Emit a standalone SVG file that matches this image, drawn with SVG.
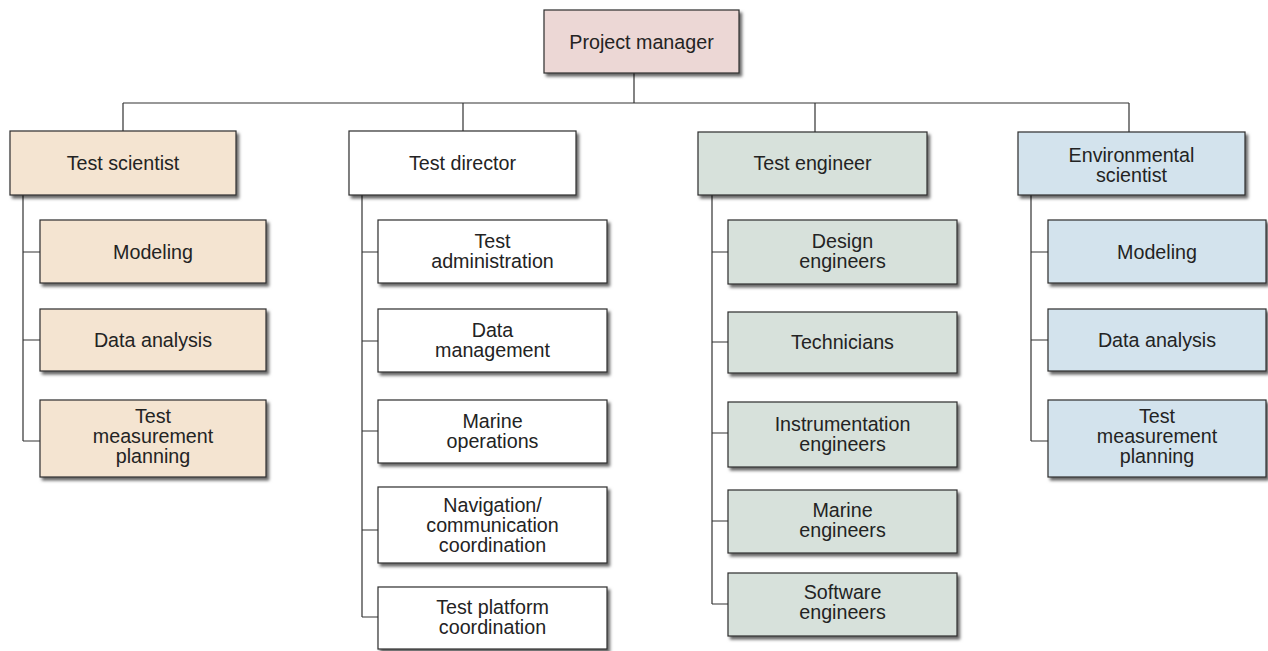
<svg xmlns="http://www.w3.org/2000/svg" width="1268" height="651" viewBox="0 0 1268 651">
  <defs>
    <filter id="shadow" x="-5%" y="-10%" width="115%" height="130%">
      <feDropShadow dx="2.5" dy="3" stdDeviation="1.6" flood-color="#000" flood-opacity="0.6"/>
    </filter>
  </defs>
  <style>
    .box { stroke: #2e2e2e; stroke-width: 1.2; filter: url(#shadow); }
    .pm { fill: #ecd7d5; }
    .sci { fill: #f4e4d1; }
    .dir { fill: #ffffff; }
    .eng { fill: #d7e1db; }
    .env { fill: #d3e3ed; }
    .lbl { font-family: "Liberation Sans", Arial, sans-serif; font-size: 19.7px; fill: #232323; text-anchor: middle; }
    .conn { stroke: #333; stroke-width: 1.2; fill: none; }
  </style>

  <!-- connectors -->
  <g id="connectors" class="conn">
    <path d="M634,73 V103 M123,103 H1129 M123,103 V131 M463,103 V131 M815,103 V132 M1129,103 V132"/>
    <!-- Test scientist branch -->
    <path d="M23,195 V441 M23,252 H40 M23,340 H40 M23,441 H40"/>
    <!-- Test director branch -->
    <path d="M362,195 V617 M362,252 H378 M362,341 H378 M362,431 H378 M362,530 H378 M362,617 H378"/>
    <!-- Test engineer branch -->
    <path d="M712,195 V604 M712,252 H728 M712,342 H728 M712,433 H728 M712,521 H728 M712,604 H728"/>
    <!-- Environmental scientist branch -->
    <path d="M1031,195 V441 M1031,252 H1048 M1031,340 H1048 M1031,441 H1048"/>
  </g>

  <!-- top -->
  <g id="project-manager">
    <rect class="box pm" x="544" y="10" width="195" height="63"/>
    <text class="lbl" x="641.5" y="48.5">Project manager</text>
  </g>

  <!-- level 1 -->
  <g id="test-scientist">
    <rect class="box sci" x="10" y="131" width="226" height="64"/>
    <text class="lbl" x="123" y="169.5">Test scientist</text>
  </g>
  <g id="test-director">
    <rect class="box dir" x="349" y="131" width="227" height="64"/>
    <text class="lbl" x="462.5" y="169.5">Test director</text>
  </g>
  <g id="test-engineer">
    <rect class="box eng" x="698" y="132" width="229" height="63"/>
    <text class="lbl" x="812.5" y="169.5">Test engineer</text>
  </g>
  <g id="environmental-scientist">
    <rect class="box env" x="1018" y="132" width="227" height="63"/>
    <text class="lbl" x="1131.5" y="162">Environmental</text>
    <text class="lbl" x="1131.5" y="181.5">scientist</text>
  </g>

  <!-- Test scientist children -->
  <g id="sci-modeling">
    <rect class="box sci" x="40" y="220" width="226" height="63"/>
    <text class="lbl" x="153" y="258.5">Modeling</text>
  </g>
  <g id="sci-data-analysis">
    <rect class="box sci" x="40" y="309" width="226" height="62"/>
    <text class="lbl" x="153" y="347">Data analysis</text>
  </g>
  <g id="sci-test-measurement">
    <rect class="box sci" x="40" y="400" width="226" height="77"/>
    <text class="lbl" x="153" y="423">Test</text>
    <text class="lbl" x="153" y="443">measurement</text>
    <text class="lbl" x="153" y="462.5">planning</text>
  </g>

  <!-- Test director children -->
  <g id="dir-test-administration">
    <rect class="box dir" x="378" y="220" width="229" height="63"/>
    <text class="lbl" x="492.5" y="248">Test</text>
    <text class="lbl" x="492.5" y="268">administration</text>
  </g>
  <g id="dir-data-management">
    <rect class="box dir" x="378" y="309" width="229" height="63"/>
    <text class="lbl" x="492.5" y="337">Data</text>
    <text class="lbl" x="492.5" y="357">management</text>
  </g>
  <g id="dir-marine-operations">
    <rect class="box dir" x="378" y="400" width="229" height="63"/>
    <text class="lbl" x="492.5" y="428">Marine</text>
    <text class="lbl" x="492.5" y="448">operations</text>
  </g>
  <g id="dir-navigation">
    <rect class="box dir" x="378" y="487" width="229" height="76"/>
    <text class="lbl" x="492.5" y="512">Navigation/</text>
    <text class="lbl" x="492.5" y="532">communication</text>
    <text class="lbl" x="492.5" y="552">coordination</text>
  </g>
  <g id="dir-test-platform">
    <rect class="box dir" x="378" y="587" width="229" height="62"/>
    <text class="lbl" x="492.5" y="614">Test platform</text>
    <text class="lbl" x="492.5" y="634">coordination</text>
  </g>

  <!-- Test engineer children -->
  <g id="eng-design">
    <rect class="box eng" x="728" y="220" width="229" height="64"/>
    <text class="lbl" x="842.5" y="248">Design</text>
    <text class="lbl" x="842.5" y="268">engineers</text>
  </g>
  <g id="eng-technicians">
    <rect class="box eng" x="728" y="312" width="229" height="61"/>
    <text class="lbl" x="842.5" y="349">Technicians</text>
  </g>
  <g id="eng-instrumentation">
    <rect class="box eng" x="728" y="402" width="229" height="65"/>
    <text class="lbl" x="842.5" y="431">Instrumentation</text>
    <text class="lbl" x="842.5" y="451">engineers</text>
  </g>
  <g id="eng-marine">
    <rect class="box eng" x="728" y="490" width="229" height="63"/>
    <text class="lbl" x="842.5" y="517">Marine</text>
    <text class="lbl" x="842.5" y="537">engineers</text>
  </g>
  <g id="eng-software">
    <rect class="box eng" x="728" y="573" width="229" height="63"/>
    <text class="lbl" x="842.5" y="599">Software</text>
    <text class="lbl" x="842.5" y="619">engineers</text>
  </g>

  <!-- Environmental scientist children -->
  <g id="env-modeling">
    <rect class="box env" x="1048" y="220" width="218" height="63"/>
    <text class="lbl" x="1157" y="258.5">Modeling</text>
  </g>
  <g id="env-data-analysis">
    <rect class="box env" x="1048" y="309" width="218" height="62"/>
    <text class="lbl" x="1157" y="347">Data analysis</text>
  </g>
  <g id="env-test-measurement">
    <rect class="box env" x="1048" y="400" width="218" height="77"/>
    <text class="lbl" x="1157" y="423">Test</text>
    <text class="lbl" x="1157" y="443">measurement</text>
    <text class="lbl" x="1157" y="462.5">planning</text>
  </g>
</svg>
